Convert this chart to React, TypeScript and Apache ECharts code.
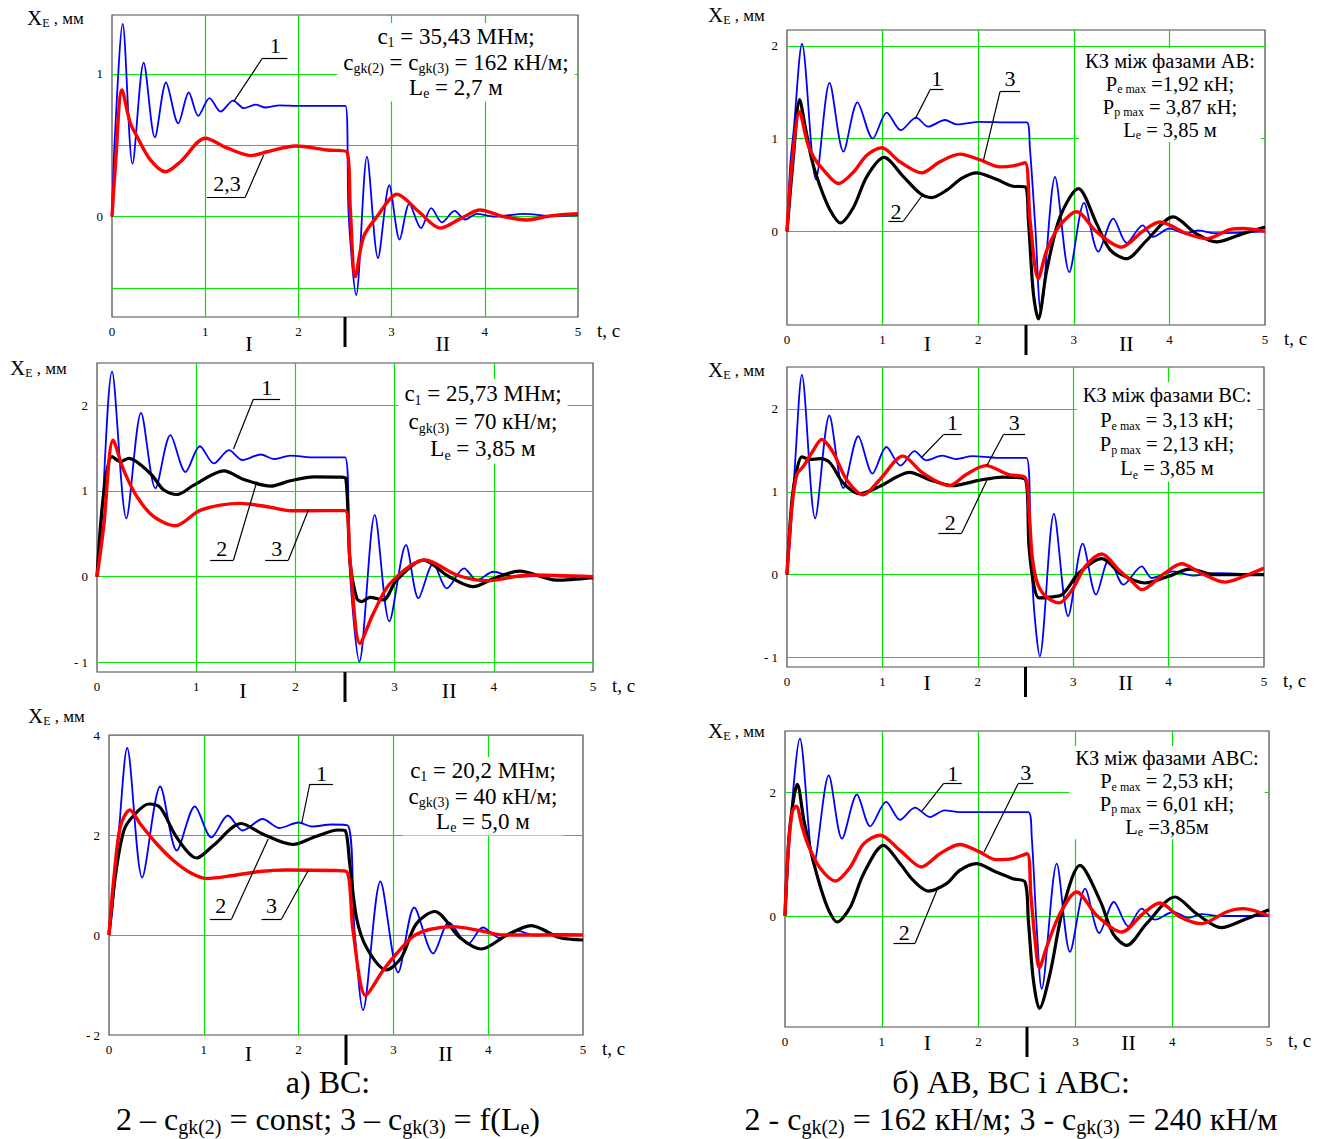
import React, { useEffect, useRef } from "react";
import * as echarts from "echarts";

type Pt = [number, number];

const FAMILY = '"Liberation Serif", "Times New Roman", Times, serif';
const BLUE = "#0000ff";
const RED = "#ff0000";
const BLACK = "#000000";
const GREEN = "#00e600";
const FRAME = "#4a4a4a";
const f = (size: number) => `${size}px ${FAMILY}`;

// ---------- panel а) top : c1 = 35,43 ----------
const a1Blue: Pt[] = [[0,0],[0.03,0.55],[0.115,1.35],[0.22,0.37],[0.34,1.08],[0.46,0.556],[0.58,0.94],[0.71,0.654],[0.824,0.87],[0.925,0.706],[1.047,0.83],[1.165,0.736],[1.30,0.813],[1.416,0.76],[1.54,0.785],[1.65,0.765],[1.8,0.78],[2.0,0.776],[2.3,0.776],[2.505,0.776],[2.54,0.0],[2.62,-0.55],[2.736,0.42],[2.854,-0.29],[2.975,0.22],[3.086,-0.16],[3.19,0.09],[3.315,-0.08],[3.426,0.06],[3.54,-0.04],[3.676,0.04],[3.79,-0.02],[3.916,0.02],[4.1,0.0],[4.43,0.02],[4.7,0.005],[5,0.01]];
const a1Red: Pt[] = [[0,0],[0.036,0.35],[0.107,0.888],[0.197,0.654],[0.27,0.56],[0.41,0.40],[0.573,0.315],[0.735,0.385],[1.0,0.549],[1.24,0.48],[1.487,0.428],[1.667,0.455],[1.97,0.495],[2.31,0.467],[2.52,0.455],[2.557,0.05],[2.61,-0.42],[2.70,-0.14],[2.843,0.0],[3.058,0.157],[3.3,0.03],[3.52,-0.08],[3.75,-0.01],[3.95,0.047],[4.2,0.0],[4.45,-0.023],[4.7,0.005],[5,0.02]];

// ---------- panel а) middle : c1 = 25,73 ----------
const a2Blue: Pt[] = [[0,0],[0.03,0.3],[0.152,2.39],[0.296,0.68],[0.444,1.91],[0.589,1.03],[0.74,1.65],[0.892,1.22],[1.037,1.52],[1.178,1.32],[1.33,1.475],[1.465,1.36],[1.65,1.424],[1.785,1.37],[1.95,1.41],[2.2,1.39],[2.5,1.39],[2.55,0.04],[2.645,-0.99],[2.80,0.72],[2.947,-0.52],[3.115,0.37],[3.24,-0.25],[3.39,0.155],[3.525,-0.136],[3.70,0.097],[3.83,-0.04],[3.995,0.058],[4.2,0.0],[4.5,0.01],[5,-0.02]];
const a2Black: Pt[] = [[0,0],[0.067,0.97],[0.152,1.40],[0.236,1.34],[0.32,1.38],[0.54,1.20],[0.673,1.01],[0.808,0.958],[0.976,1.067],[1.28,1.234],[1.48,1.133],[1.75,1.055],[1.95,1.118],[2.19,1.164],[2.45,1.16],[2.508,1.145],[2.55,0.19],[2.618,-0.25],[2.67,-0.29],[2.75,-0.24],[2.886,-0.27],[3.02,-0.04],[3.29,0.194],[3.55,0.0],[3.79,-0.116],[4.0,-0.02],[4.26,0.066],[4.63,-0.04],[5,-0.01]];
const a2Red: Pt[] = [[0,0],[0.067,0.58],[0.162,1.59],[0.27,1.24],[0.404,0.93],[0.572,0.70],[0.79,0.594],[1.044,0.776],[1.448,0.854],[1.717,0.815],[1.953,0.768],[2.3,0.77],[2.5,0.77],[2.55,0.19],[2.651,-0.776],[2.785,-0.43],[2.954,-0.08],[3.306,0.194],[3.625,0.02],[3.93,-0.047],[4.36,0.02],[5,0.0]];

// ---------- panel а) bottom : c1 = 20,2 ----------
const a3Blue: Pt[] = [[0,0],[0.035,0.49],[0.105,2.09],[0.192,3.74],[0.35,1.15],[0.54,2.97],[0.715,1.69],[0.906,2.57],[1.08,1.95],[1.254,2.39],[1.41,2.09],[1.62,2.32],[1.8,2.14],[2.0,2.25],[2.14,2.17],[2.35,2.21],[2.52,2.19],[2.59,0.09],[2.68,-1.5],[2.863,1.07],[3.05,-0.75],[3.22,0.55],[3.42,-0.37],[3.586,0.25],[3.786,-0.18],[3.944,0.15],[4.12,-0.06],[4.296,0.087],[4.5,-0.01],[4.7,0.02],[5,0.0]];
const a3Black: Pt[] = [[0,0],[0.07,1.22],[0.157,2.09],[0.26,2.39],[0.418,2.62],[0.54,2.55],[0.715,1.95],[0.924,1.54],[1.1,1.79],[1.394,2.23],[1.62,2.02],[1.94,1.81],[2.18,1.97],[2.42,2.1],[2.49,2.09],[2.54,1.42],[2.61,0.35],[2.716,-0.25],[2.926,-0.7],[3.084,-0.45],[3.24,0.22],[3.435,0.47],[3.70,-0.05],[3.927,-0.28],[4.19,-0.01],[4.454,0.187],[4.75,-0.05],[5,-0.1]];
const a3Red: Pt[] = [[0,0],[0.052,1.15],[0.122,2.19],[0.22,2.5],[0.33,2.22],[0.505,1.82],[0.68,1.49],[0.854,1.25],[1.03,1.13],[1.31,1.19],[1.59,1.27],[1.87,1.3],[2.35,1.29],[2.505,1.27],[2.574,0.09],[2.708,-1.21],[2.89,-0.71],[3.03,-0.38],[3.207,-0.03],[3.38,0.11],[3.628,0.167],[3.91,0.09],[4.16,0.0],[4.6,0.0],[5,0.0]];

// ---------- panel б) top : AB ----------
const b1Blue: Pt[] = [[0,0],[0.035,0.73],[0.07,1.09],[0.157,2.02],[0.303,0.56],[0.445,1.60],[0.59,0.86],[0.737,1.39],[0.897,1.0],[1.043,1.28],[1.19,1.09],[1.35,1.225],[1.478,1.128],[1.652,1.2],[1.774,1.153],[2.02,1.18],[2.3,1.175],[2.508,1.175],[2.54,0.91],[2.6,0.0],[2.654,-0.854],[2.804,0.587],[2.953,-0.44],[3.107,0.306],[3.256,-0.22],[3.413,0.137],[3.553,-0.126],[3.72,0.065],[3.83,-0.06],[4.0,0.03],[4.17,-0.025],[4.3,0.01],[4.47,-0.02],[5,0.0]];
const b1Black: Pt[] = [[0,0],[0.07,0.84],[0.132,1.42],[0.19,1.13],[0.26,0.77],[0.348,0.48],[0.45,0.23],[0.557,0.09],[0.696,0.26],[0.835,0.59],[1.016,0.796],[1.217,0.59],[1.39,0.41],[1.513,0.364],[1.67,0.443],[1.826,0.57],[1.983,0.63],[2.19,0.56],[2.365,0.486],[2.49,0.48],[2.525,0.12],[2.577,-0.67],[2.629,-0.944],[2.717,-0.42],[2.856,0.155],[3.048,0.46],[3.24,0.08],[3.38,-0.2],[3.553,-0.295],[3.76,-0.1],[4.04,0.155],[4.28,-0.025],[4.49,-0.115],[4.77,-0.025],[5,0.047]];
const b1Red: Pt[] = [[0,0],[0.052,0.73],[0.132,1.29],[0.21,0.966],[0.278,0.80],[0.383,0.66],[0.54,0.515],[0.696,0.64],[0.835,0.82],[0.99,0.90],[1.18,0.75],[1.41,0.63],[1.6,0.75],[1.81,0.832],[2.02,0.77],[2.226,0.695],[2.365,0.706],[2.49,0.739],[2.542,0.12],[2.629,-0.51],[2.717,-0.205],[2.856,0.065],[3.03,0.21],[3.24,-0.007],[3.50,-0.17],[3.72,0.0],[3.90,0.10],[4.18,-0.025],[4.39,-0.08],[4.63,0.018],[4.77,0.03],[5,0.0]];

// ---------- panel б) middle : BC ----------
const b2Blue: Pt[] = [[0,0],[0.035,0.46],[0.087,1.39],[0.156,2.41],[0.295,0.68],[0.444,1.92],[0.59,1.045],[0.747,1.67],[0.896,1.22],[1.042,1.54],[1.19,1.315],[1.337,1.49],[1.458,1.38],[1.63,1.435],[1.77,1.395],[1.944,1.43],[2.2,1.41],[2.51,1.41],[2.555,0.34],[2.59,-0.42],[2.649,-0.985],[2.798,0.736],[2.947,-0.50],[3.10,0.374],[3.239,-0.24],[3.378,0.19],[3.528,-0.12],[3.718,0.10],[3.823,-0.04],[4.05,0.04],[4.25,-0.01],[4.5,0.02],[5,0.0]];
const b2Black: Pt[] = [[0,0],[0.052,0.905],[0.104,1.27],[0.156,1.42],[0.243,1.39],[0.347,1.40],[0.45,1.35],[0.59,1.105],[0.764,0.977],[0.972,1.065],[1.285,1.234],[1.493,1.146],[1.736,1.074],[2.01,1.138],[2.257,1.178],[2.5,1.146],[2.537,0.34],[2.59,-0.14],[2.642,-0.28],[2.746,-0.27],[2.885,-0.24],[3.06,0.02],[3.30,0.193],[3.51,0.0],[3.754,-0.10],[3.997,-0.02],[4.223,0.068],[4.48,0.0],[5,0.0]];
const b2Red: Pt[] = [[0,0],[0.052,0.82],[0.104,1.21],[0.174,1.31],[0.26,1.47],[0.365,1.63],[0.486,1.47],[0.625,1.146],[0.80,0.965],[0.972,1.146],[1.215,1.43],[1.424,1.226],[1.70,1.074],[1.875,1.206],[2.083,1.315],[2.326,1.206],[2.5,1.166],[2.537,0.78],[2.57,0.22],[2.624,-0.1],[2.711,-0.26],[2.85,-0.34],[2.99,-0.18],[3.128,0.1],[3.30,0.25],[3.476,0.06],[3.615,-0.08],[3.718,-0.18],[3.96,0.02],[4.135,0.133],[4.34,0.02],[4.588,-0.09],[4.79,-0.02],[5,0.08]];

// ---------- panel б) bottom : ABC ----------
const b3Blue: Pt[] = [[0,0],[0.02,0.5],[0.058,1.55],[0.154,2.876],[0.298,0.84],[0.452,2.28],[0.589,1.254],[0.743,1.97],[0.88,1.454],[1.045,1.85],[1.188,1.56],[1.342,1.757],[1.497,1.605],[1.65,1.713],[1.8,1.686],[2.01,1.686],[2.3,1.686],[2.514,1.686],[2.549,1.28],[2.6,-0.18],[2.652,-1.18],[2.807,0.85],[2.944,-0.58],[3.10,0.443],[3.247,-0.276],[3.398,0.227],[3.546,-0.168],[3.684,0.119],[3.821,-0.06],[4.01,0.065],[4.17,-0.03],[4.3,0.03],[4.5,0.0],[5,0.0]];
const b3Black: Pt[] = [[0,0],[0.041,1.28],[0.092,1.93],[0.127,2.135],[0.195,1.55],[0.264,1.065],[0.366,0.47],[0.452,0.092],[0.538,-0.097],[0.675,0.146],[0.812,0.686],[1.017,1.146],[1.188,0.85],[1.325,0.578],[1.48,0.405],[1.668,0.524],[1.805,0.74],[1.976,0.85],[2.18,0.714],[2.353,0.605],[2.48,0.55],[2.514,-0.07],[2.566,-1.04],[2.628,-1.5],[2.738,-0.935],[2.875,0.146],[3.047,0.82],[3.254,0.254],[3.39,-0.29],[3.529,-0.476],[3.735,-0.124],[4.028,0.308],[4.25,0.04],[4.51,-0.19],[4.73,-0.07],[5,0.1]];
const b3Red: Pt[] = [[0,0],[0.031,1.01],[0.075,1.69],[0.116,1.78],[0.178,1.44],[0.247,1.12],[0.366,0.77],[0.52,0.568],[0.675,0.795],[0.812,1.17],[0.983,1.31],[1.188,1.065],[1.41,0.795],[1.6,1.01],[1.805,1.16],[2.01,1.04],[2.18,0.914],[2.35,0.93],[2.50,1.01],[2.539,0.36],[2.58,-0.34],[2.628,-0.84],[2.704,-0.5],[2.841,0.04],[3.013,0.39],[3.22,0.01],[3.478,-0.26],[3.70,0.04],[3.873,0.21],[4.08,-0.016],[4.303,-0.124],[4.56,0.065],[4.733,0.119],[5,0.0]];

// ---------- axes ----------
const xTickValues = [0, 1, 2, 3, 4, 5];
const xGridValues = [1, 2, 3, 4];
const a1YRange: Pt = [-0.703, 1.413];
const a2YRange: Pt = [-1.11, 2.49];
const a3YRange: Pt = [-2, 4];
const b1YRange: Pt = [-1.01, 2.17];
const b2YRange: Pt = [-1.113, 2.505];
const b3YRange: Pt = [-1.8, 3.0];
const a1YGrid = [-0.5, 0, 0.5, 1];
const a2YGrid = [-1, 0, 1, 2];
const a3YGrid = [0, 2, 4];
const b1YGrid = [0, 1, 2];
const b2YGrid = [-1, 0, 1, 2];
const b3YGrid = [0, 2];
const a1YTicks = [0, 1];
const a2YTicks = [-1, 0, 1, 2];
const a3YTicks = [-2, 0, 2, 4];
const b1YTicks = [0, 1, 2];
const b2YTicks = [-1, 0, 1, 2];
const b3YTicks = [0, 2];

// ---------- curve number annotations (data coordinates) ----------
type Note = { label: string; at: Pt; path: Pt[] };
const a1Notes: Note[] = [
  { label: "1", at: [1.752, 1.2], path: [[1.305, 0.806], [1.613, 1.11], [1.881, 1.11]] },
  { label: "2,3", at: [1.234, 0.234], path: [[1.019, 0.136], [1.43, 0.136], [1.627, 0.432]] },
];
const a2Notes: Note[] = [
  { label: "1", at: [1.711, 2.2], path: [[1.376, 1.487], [1.577, 2.07], [1.846, 2.07]] },
  { label: "2", at: [1.258, 0.33], path: [[1.141, 0.195], [1.376, 0.195], [1.611, 1.108]] },
  { label: "3", at: [1.812, 0.33], path: [[1.695, 0.195], [1.93, 0.195], [2.131, 0.778]] },
];
const a3Notes: Note[] = [
  { label: "1", at: [2.241, 3.24], path: [[2.031, 2.22], [2.118, 3.02], [2.364, 3.02]] },
  { label: "2", at: [1.178, 0.59], path: [[1.064, 0.32], [1.293, 0.32], [1.679, 1.92]] },
  { label: "3", at: [1.714, 0.59], path: [[1.609, 0.32], [1.82, 0.32], [2.1, 1.286]] },
];
const b1Notes: Note[] = [
  { label: "1", at: [1.567, 1.65], path: [[1.341, 1.212], [1.497, 1.527], [1.636, 1.527]] },
  { label: "3", at: [2.333, 1.65], path: [[2.054, 0.763], [2.229, 1.509], [2.438, 1.509]] },
  { label: "2", at: [1.14, 0.21], path: [[1.062, 0.111], [1.218, 0.111], [1.427, 0.405]] },
];
const b2Notes: Note[] = [
  { label: "1", at: [1.736, 1.83], path: [[1.414, 1.42], [1.64, 1.689], [1.832, 1.689]] },
  { label: "3", at: [2.381, 1.83], path: [[2.094, 1.315], [2.268, 1.689], [2.495, 1.689]] },
  { label: "2", at: [1.71, 0.63], path: [[1.587, 0.503], [1.832, 0.503], [2.094, 1.137]] },
];
const b3Notes: Note[] = [
  { label: "1", at: [1.732, 2.31], path: [[1.414, 1.70], [1.637, 2.146], [1.827, 2.146]] },
  { label: "3", at: [2.487, 2.33], path: [[2.057, 1.037], [2.408, 2.146], [2.566, 2.146]] },
  { label: "2", at: [1.233, -0.26], path: [[1.121, -0.438], [1.345, -0.438], [1.569, 0.417]] },
];

// ---------- parameter texts ----------
const a1Info = ["{t|c}{s|1}{t| = 35,43 МНм;}", "{t|c}{s|gk(2)}{t| = c}{s|gk(3)}{t| = 162 кН/м;}", "{t|L}{s|e}{t| = 2,7 м}"];
const a2Info = ["{t|c}{s|1}{t| = 25,73 МНм;}", "{t|c}{s|gk(3)}{t| = 70 кН/м;}", "{t|L}{s|e}{t| = 3,85 м}"];
const a3Info = ["{t|c}{s|1}{t| = 20,2 МНм;}", "{t|c}{s|gk(3)}{t| = 40 кН/м;}", "{t|L}{s|e}{t| = 5,0 м}"];
const b1Info = ["{t|КЗ між фазами АВ:}", "{t|P}{s|e max}{t| =1,92 кН;}", "{t|P}{s|p max}{t| = 3,87 кН;}", "{t|L}{s|e}{t| = 3,85 м}"];
const b2Info = ["{t|КЗ між фазами ВС:}", "{t|P}{s|e max}{t| = 3,13 кН;}", "{t|P}{s|p max}{t| = 2,13 кН;}", "{t|L}{s|e}{t| = 3,85 м}"];
const b3Info = ["{t|КЗ між фазами АВС:}", "{t|P}{s|e max}{t| = 2,53 кН;}", "{t|P}{s|p max}{t| = 6,01 кН;}", "{t|L}{s|e}{t| =3,85м}"];

const captionA = ["{c|а) ВС:}", "{c|2 – c}{cs|gk(2)}{c| = const; 3 – c}{cs|gk(3)}{c| = f(L}{cs|e}{c|)}"];
const captionB = ["{c|б) АВ, ВС і АВС:}", "{c|2 - c}{cs|gk(2)}{c| = 162 кН/м; 3 - c}{cs|gk(3)}{c| = 240 кН/м}"];
const yTitle = "{x|X}{e|E}{m| , мм}";
const xTitle = "t, c";
const stageLabels = ["I", "II"];
const stageT = [1.47, 3.55];

// ---------- layout ----------
type Panel = {
  rect: [number, number, number, number];
  yr: Pt; yGrid: number[]; yTicks: number[];
  curves: [Pt[], string, number][];
  notes: Note[];
  info: string[]; infoCx: number; infoTop: number; infoFont: number; infoSub: number; infoLH: number;
  title: Pt; romanDy: number;
};

const panels: Panel[] = [
  { rect: [112, 15, 466, 302], yr: a1YRange, yGrid: a1YGrid, yTicks: a1YTicks,
    curves: [[a1Blue, BLUE, 1.8], [a1Red, RED, 3.4]], notes: a1Notes,
    info: a1Info, infoCx: 456, infoTop: 23, infoFont: 23, infoSub: 14, infoLH: 25.5, title: [27, 18], romanDy: 26 },
  { rect: [97, 363, 496, 309], yr: a2YRange, yGrid: a2YGrid, yTicks: a2YTicks,
    curves: [[a2Blue, BLUE, 1.8], [a2Black, BLACK, 3.2], [a2Red, RED, 3.4]], notes: a2Notes,
    info: a2Info, infoCx: 483, infoTop: 379, infoFont: 23, infoSub: 14, infoLH: 27.5, title: [10, 368], romanDy: 18 },
  { rect: [109, 735, 474, 300], yr: a3YRange, yGrid: a3YGrid, yTicks: a3YTicks,
    curves: [[a3Blue, BLUE, 1.8], [a3Black, BLACK, 3.2], [a3Red, RED, 3.4]], notes: a3Notes,
    info: a3Info, infoCx: 483, infoTop: 757, infoFont: 23, infoSub: 14, infoLH: 25.5, title: [28, 716], romanDy: 18 },
  { rect: [787, 30, 478, 295], yr: b1YRange, yGrid: b1YGrid, yTicks: b1YTicks,
    curves: [[b1Blue, BLUE, 1.8], [b1Black, BLACK, 3.2], [b1Red, RED, 3.4]], notes: b1Notes,
    info: b1Info, infoCx: 1170, infoTop: 48, infoFont: 20.5, infoSub: 12, infoLH: 23, title: [708, 15], romanDy: 18 },
  { rect: [787, 367, 477, 300], yr: b2YRange, yGrid: b2YGrid, yTicks: b2YTicks,
    curves: [[b2Blue, BLUE, 1.8], [b2Black, BLACK, 3.2], [b2Red, RED, 3.4]], notes: b2Notes,
    info: b2Info, infoCx: 1167, infoTop: 382, infoFont: 20.5, infoSub: 12, infoLH: 24.4, title: [708, 370], romanDy: 15 },
  { rect: [785, 731, 484, 296], yr: b3YRange, yGrid: b3YGrid, yTicks: b3YTicks,
    curves: [[b3Blue, BLUE, 1.8], [b3Black, BLACK, 3.2], [b3Red, RED, 3.4]], notes: b3Notes,
    info: b3Info, infoCx: 1167, infoTop: 746, infoFont: 20.5, infoSub: 12, infoLH: 22.8, title: [708, 731], romanDy: 15 },
];

function tok(size: number, lineHeight: number, sub = false): any {
  const t: any = { font: f(size), fontFamily: FAMILY, fontSize: size, color: "#000", lineHeight };
  if (sub) t.verticalAlign = "bottom";
  return t;
}

function buildOption() {
  const grid: any[] = [];
  const xAxis: any[] = [];
  const yAxis: any[] = [];
  const series: any[] = [];
  const graphic: any[] = [];

  panels.forEach((p, i) => {
    const [left, top, width, height] = p.rect;
    grid.push({ left, top, width, height, show: true, borderColor: FRAME, borderWidth: 1.2, backgroundColor: "#fff", containLabel: false });
    xAxis.push({
      type: "value", gridIndex: i, min: 0, max: 5, interval: 1,
      axisLine: { show: false }, axisTick: { show: false }, splitLine: { show: false },
      axisLabel: { fontFamily: FAMILY, fontSize: 13, color: "#000", margin: 8, customValues: xTickValues },
    });
    yAxis.push({
      type: "value", gridIndex: i, min: p.yr[0], max: p.yr[1],
      axisLine: { show: false }, axisTick: { show: false }, splitLine: { show: false },
      axisLabel: {
        fontFamily: FAMILY, fontSize: 13, color: "#000", margin: 9, customValues: p.yTicks,
        formatter: (v: number) => (v < 0 ? "- " + Math.abs(v) : String(v)),
      },
    });

    p.curves.forEach(([data, color, w], k) => {
      const s: any = {
        type: "line", xAxisIndex: i, yAxisIndex: i, data,
        symbol: "none", showSymbol: false, smooth: 0.3,
        lineStyle: { color, width: w, join: "round" }, itemStyle: { color },
        z: 2 + k, silent: true, emphasis: { disabled: true },
      };
      if (k === 0) {
        s.markLine = {
          z: 1, silent: true, symbol: ["none", "none"], label: { show: false },
          lineStyle: { color: GREEN, width: 1.2, type: "solid" },
          emphasis: { disabled: true },
          data: [
            ...p.yGrid.map((v) => ({ yAxis: v })),
            ...xGridValues.map((v) => ({ xAxis: v })),
          ],
        };
      }
      if (k === p.curves.length - 1) {
        const segs: any[] = [];
        p.notes.forEach((n) => {
          for (let j = 0; j < n.path.length - 1; j++) {
            segs.push([{ coord: n.path[j] }, { coord: n.path[j + 1] }]);
          }
        });
        s.markLine = {
          z: 8, silent: true, symbol: ["none", "none"], label: { show: false },
          lineStyle: { color: "#000", width: 1.2, type: "solid" },
          emphasis: { disabled: true },
          data: segs,
        };
        s.markPoint = {
          z: 8, silent: true, symbol: "rect", symbolSize: 1,
          itemStyle: { color: "rgba(0,0,0,0)" },
          label: { show: true, position: "inside", formatter: "{b}", fontFamily: FAMILY, fontSize: 22, color: "#000" },
          emphasis: { disabled: true },
          data: p.notes.map((n) => ({ name: n.label, coord: n.at })),
        };
      }
      series.push(s);
    });

    // parameter text box
    graphic.push({
      type: "text", z: 20,
      style: {
        x: p.infoCx, y: p.infoTop, text: p.info.join("\n"),
        align: "center", verticalAlign: "top", textAlign: "center", textVerticalAlign: "top",
        backgroundColor: "#fff", padding: [1, 6, 1, 6],
        rich: { t: tok(p.infoFont, p.infoLH), s: tok(p.infoSub, p.infoSub + 1, true) },
      },
    });
    // y title
    graphic.push({
      type: "text", z: 20,
      style: {
        x: p.title[0], y: p.title[1], text: yTitle, align: "left", verticalAlign: "middle",
        textAlign: "left", textVerticalAlign: "middle",
        rich: { x: tok(21, 22), e: tok(12, 12, true), m: tok(17, 22) },
      },
    });
    // x title
    graphic.push({
      type: "text", z: 20,
      style: {
        x: left + width + 19, y: top + height + 13, text: xTitle,
        font: f(19), fill: "#000", align: "left", verticalAlign: "middle",
        textAlign: "left", textVerticalAlign: "middle",
      },
    });
    // stage boundary marker
    graphic.push({
      type: "rect", z: 20,
      shape: { x: left + width * 0.5 - 1.5, y: top + height, width: 3, height: 30 },
      style: { fill: "#000" },
    });
    stageLabels.forEach((lab, j) => {
      graphic.push({
        type: "text", z: 20,
        style: {
          x: left + (width * stageT[j]) / 5, y: top + height + p.romanDy, text: lab,
          font: f(22), fill: "#000", align: "center", verticalAlign: "middle",
          textAlign: "center", textVerticalAlign: "middle",
        },
      });
    });
  });

  const capRich = { c: tok(32, 37), cs: tok(20, 27, true) };
  graphic.push({
    type: "text", z: 20,
    style: { x: 328, y: 1063, text: captionA.join("\n"), align: "center", verticalAlign: "top", textAlign: "center", textVerticalAlign: "top", rich: capRich },
  });
  graphic.push({
    type: "text", z: 20,
    style: { x: 1011, y: 1063, text: captionB.join("\n"), align: "center", verticalAlign: "top", textAlign: "center", textVerticalAlign: "top", rich: capRich },
  });

  return {
    animation: false,
    backgroundColor: "#ffffff",
    textStyle: { fontFamily: FAMILY },
    grid, xAxis, yAxis, series, graphic,
  };
}

export default function App() {
  const ref = useRef<HTMLDivElement>(null);
  useEffect(() => {
    document.body.style.margin = "0";
    if (!ref.current) return;
    const chart = echarts.init(ref.current, undefined, { renderer: "svg" });
    chart.setOption(buildOption() as any);
    return () => chart.dispose();
  }, []);
  return <div ref={ref} style={{ width: 1327, height: 1139 }} />;
}
